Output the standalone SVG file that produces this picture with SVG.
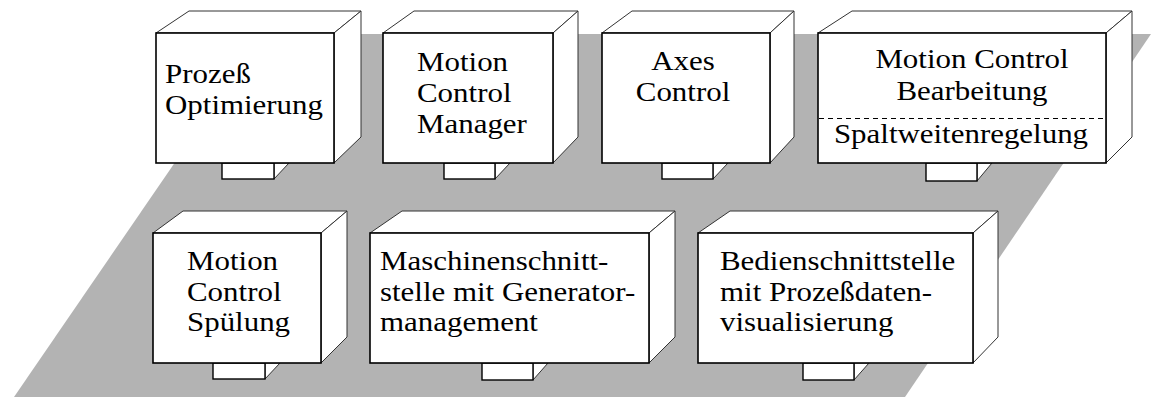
<svg xmlns="http://www.w3.org/2000/svg" width="1151" height="398" viewBox="0 0 1151 398">
  <style>
    .floor { fill: #b3b3b3; }
    .face { fill: #ffffff; stroke: #333333; stroke-width: 1; stroke-linejoin: round; }
    .front { fill: #ffffff; stroke: #000000; stroke-width: 1.6; }
    .foot { fill: #ffffff; stroke: #000000; stroke-width: 1.4; }
    .footside { fill: #ffffff; stroke: #333333; stroke-width: 1; }
    .mid { text-anchor: middle; }
    .sep { stroke: #000000; stroke-width: 1.2; stroke-dasharray: 5 4; }
  </style>

  <!-- floor plane -->
  <polygon class="floor" points="263,34 1151,34 905,397 14,397"/>

  <g id="connectors"></g>

  <g id="nodes" font-family="Liberation Serif, Times New Roman, serif" font-size="27.5" fill="#000000">

  <!-- Prozeß Optimierung -->
  <g id="node-prozess-optimierung">
    <polygon class="footside" points="274,163 289,163 274,179"/>
    <rect class="foot" x="222" y="163" width="52" height="16"/>
    <polygon class="face" points="156,33 189,11 361,11 334,33"/>
    <polygon class="face" points="334,33 361,11 361,137 334,163"/>
    <rect class="front" x="156" y="33" width="178" height="130"/>
    <g transform="translate(165,83) scale(1.125,1)">
      <text x="0" y="0">Prozeß</text>
      <text x="0" y="31">Optimierung</text>
    </g>
  </g>

  <!-- Motion Control Manager -->
  <g id="node-motion-control-manager">
    <polygon class="footside" points="495,163 510,163 495,179"/>
    <rect class="foot" x="444" y="163" width="51" height="16"/>
    <polygon class="face" points="383,33 414,11 578,11 553,33"/>
    <polygon class="face" points="553,33 578,11 578,137 553,163"/>
    <rect class="front" x="383" y="33" width="170" height="130"/>
    <g transform="translate(417,71) scale(1.125,1)">
      <text x="0" y="0">Motion</text>
      <text x="0" y="31">Control</text>
      <text x="0" y="62">Manager</text>
    </g>
  </g>

  <!-- Axes Control -->
  <g id="node-axes-control">
    <polygon class="footside" points="713,163 728,163 713,179"/>
    <rect class="foot" x="662" y="163" width="51" height="16"/>
    <polygon class="face" points="602,33 632,11 794,11 770,33"/>
    <polygon class="face" points="770,33 794,11 794,137 770,163"/>
    <rect class="front" x="602" y="33" width="168" height="130"/>
    <g transform="translate(683,70) scale(1.125,1)">
      <text class="mid" x="0" y="0">Axes</text>
      <text class="mid" x="0" y="31.5">Control</text>
    </g>
  </g>

  <!-- Motion Control Bearbeitung / Spaltweitenregelung -->
  <g id="node-motion-control-bearbeitung">
    <polygon class="footside" points="977,163 992,163 977,181"/>
    <rect class="foot" x="926" y="163" width="51" height="18"/>
    <polygon class="face" points="818,33 852,11 1132,11 1106,33"/>
    <polygon class="face" points="1106,33 1132,11 1132,137 1106,163"/>
    <rect class="front" x="818" y="33" width="288" height="130"/>
    <g transform="translate(972,68) scale(1.125,1)">
      <text class="mid" x="0" y="0">Motion Control</text>
      <text class="mid" x="0" y="32">Bearbeitung</text>
    </g>
    <line class="sep" x1="819" y1="118.5" x2="1105" y2="118.5"/>
    <g transform="translate(961,143) scale(1.125,1)">
      <text class="mid" x="0" y="0">Spaltweitenregelung</text>
    </g>
  </g>

  <!-- Motion Control Spülung -->
  <g id="node-motion-control-spuelung">
    <polygon class="footside" points="265,363 280,363 265,379"/>
    <rect class="foot" x="213" y="363" width="52" height="16"/>
    <polygon class="face" points="153,233 183,211 347,211 321,233"/>
    <polygon class="face" points="321,233 347,211 347,337 321,363"/>
    <rect class="front" x="153" y="233" width="168" height="130"/>
    <g transform="translate(187,270) scale(1.125,1)">
      <text x="0" y="0">Motion</text>
      <text x="0" y="31">Control</text>
      <text x="0" y="61.5">Spülung</text>
    </g>
  </g>

  <!-- Maschinenschnittstelle mit Generatormanagement -->
  <g id="node-maschinenschnittstelle">
    <polygon class="footside" points="533,363 548,363 533,380"/>
    <rect class="foot" x="482" y="363" width="51" height="17"/>
    <polygon class="face" points="370,233 402,211 675,211 649,233"/>
    <polygon class="face" points="649,233 675,211 675,337 649,363"/>
    <rect class="front" x="370" y="233" width="279" height="130"/>
    <g transform="translate(380,270) scale(1.125,1)">
      <text x="0" y="0">Maschinenschnitt-</text>
      <text x="0" y="31">stelle mit Generator-</text>
      <text x="0" y="61.5">management</text>
    </g>
  </g>

  <!-- Bedienschnittstelle mit Prozeßdatenvisualisierung -->
  <g id="node-bedienschnittstelle">
    <polygon class="footside" points="854,363 869,363 854,380"/>
    <rect class="foot" x="803" y="363" width="51" height="17"/>
    <polygon class="face" points="698,233 730,211 998,211 973,233"/>
    <polygon class="face" points="973,233 998,211 998,337 973,363"/>
    <rect class="front" x="698" y="233" width="275" height="130"/>
    <g transform="translate(720,270) scale(1.125,1)">
      <text x="0" y="0">Bedienschnittstelle</text>
      <text x="0" y="31">mit Prozeßdaten-</text>
      <text x="0" y="61">visualisierung</text>
    </g>
  </g>

  </g>
</svg>
